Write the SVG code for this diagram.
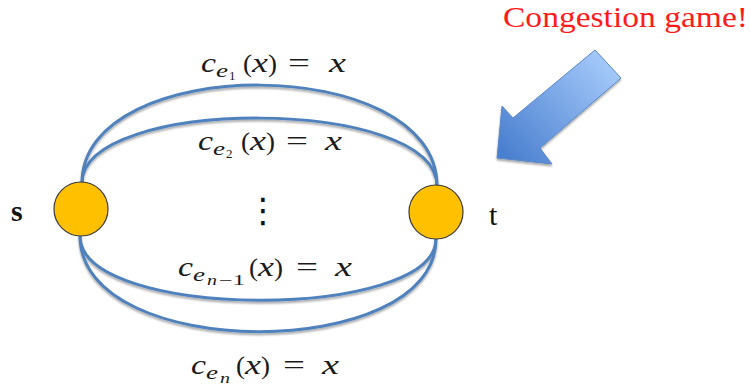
<svg xmlns="http://www.w3.org/2000/svg" width="751" height="390" viewBox="0 0 751 390">
<defs>
<linearGradient id="ag" x1="610" y1="60" x2="505" y2="155" gradientUnits="userSpaceOnUse">
<stop offset="0" stop-color="#a6cbfb"/>
<stop offset="1" stop-color="#4a7fcf"/>
</linearGradient>
<filter id="sh" x="-10%" y="-10%" width="120%" height="120%">
<feGaussianBlur in="SourceAlpha" stdDeviation="1.2"/>
<feOffset dx="0" dy="1.5"/>
<feComponentTransfer><feFuncA type="linear" slope="0.35"/></feComponentTransfer>
<feMerge><feMergeNode/><feMergeNode in="SourceGraphic"/></feMerge>
</filter>
</defs>
<style>
.edge{fill:none;stroke:#4f81bd;stroke-width:3;}
.node{fill:#ffc000;stroke:#3a3a3a;stroke-width:1.2;}
text{font-family:'Liberation Serif','Times New Roman',serif;}
.m text{fill:#1a1a1a;}
.i{font-style:italic;}
.lbl{fill:#111;}
</style>
<rect width="751" height="390" fill="#ffffff"/>
<g id="connectors" filter="url(#sh)">
<path class="edge" d="M82,183 C82,52 437,52 437,186"/>
<path class="edge" d="M82,183 C82,96 437,96 437,186"/>
<path class="edge" d="M80,236 C80,321 436,321 436,239"/>
<path class="edge" d="M80,236 C80,363 436,363 436,239"/>
</g>
<g id="node-s">
<circle class="node" cx="81" cy="209" r="27"/>
<text class="lbl" x="11" y="221" font-size="30" font-weight="bold">s</text>
</g>
<g id="node-t">
<circle class="node" cx="436" cy="212" r="27"/>
<text class="lbl" x="489" y="225" font-size="30">t</text>
</g>
<g id="label-e1" class="m">
<text class="i" x="201" y="72" font-size="27" textLength="15" lengthAdjust="spacingAndGlyphs">c</text>
<text class="i" x="216" y="77" font-size="19" textLength="12" lengthAdjust="spacingAndGlyphs">e</text>
<text x="229" y="80" font-size="13">1</text>
<text x="243" y="72" font-size="26" textLength="9" lengthAdjust="spacingAndGlyphs">(</text>
<text class="i" x="252" y="72" font-size="27" textLength="16" lengthAdjust="spacingAndGlyphs">x</text>
<text x="268" y="72" font-size="26" textLength="9" lengthAdjust="spacingAndGlyphs">)</text>
<text x="288" y="72" font-size="27" textLength="22" lengthAdjust="spacingAndGlyphs">=</text>
<text class="i" x="329" y="72" font-size="27" textLength="17" lengthAdjust="spacingAndGlyphs">x</text>
</g>
<g id="label-e2" class="m">
<text class="i" x="198" y="150" font-size="27" textLength="15" lengthAdjust="spacingAndGlyphs">c</text>
<text class="i" x="213" y="155" font-size="19" textLength="12" lengthAdjust="spacingAndGlyphs">e</text>
<text x="226" y="158" font-size="13">2</text>
<text x="241" y="150" font-size="26" textLength="9" lengthAdjust="spacingAndGlyphs">(</text>
<text class="i" x="250" y="150" font-size="27" textLength="16" lengthAdjust="spacingAndGlyphs">x</text>
<text x="266" y="150" font-size="26" textLength="9" lengthAdjust="spacingAndGlyphs">)</text>
<text x="286" y="150" font-size="27" textLength="22" lengthAdjust="spacingAndGlyphs">=</text>
<text class="i" x="325" y="150" font-size="27" textLength="17" lengthAdjust="spacingAndGlyphs">x</text>
</g>
<g id="dots">
<text x="263" y="222" style="font-family:'DejaVu Sans',sans-serif" font-size="34" fill="#111" text-anchor="middle">⋮</text>
</g>
<g id="label-en1" class="m">
<text class="i" x="178" y="276" font-size="27" textLength="15" lengthAdjust="spacingAndGlyphs">c</text>
<text class="i" x="193" y="281" font-size="19" textLength="12" lengthAdjust="spacingAndGlyphs">e</text>
<text class="i" x="207" y="285" font-size="14" textLength="10" lengthAdjust="spacingAndGlyphs">n</text>
<text x="219" y="285" font-size="14" textLength="26" lengthAdjust="spacingAndGlyphs">−1</text>
<text x="249" y="276" font-size="26" textLength="9" lengthAdjust="spacingAndGlyphs">(</text>
<text class="i" x="258" y="276" font-size="27" textLength="16" lengthAdjust="spacingAndGlyphs">x</text>
<text x="274" y="276" font-size="26" textLength="9" lengthAdjust="spacingAndGlyphs">)</text>
<text x="296" y="276" font-size="27" textLength="22" lengthAdjust="spacingAndGlyphs">=</text>
<text class="i" x="335" y="276" font-size="27" textLength="17" lengthAdjust="spacingAndGlyphs">x</text>
</g>
<g id="label-en" class="m">
<text class="i" x="191" y="374" font-size="27" textLength="15" lengthAdjust="spacingAndGlyphs">c</text>
<text class="i" x="206" y="379" font-size="19" textLength="12" lengthAdjust="spacingAndGlyphs">e</text>
<text class="i" x="220" y="383" font-size="14" textLength="10" lengthAdjust="spacingAndGlyphs">n</text>
<text x="236" y="374" font-size="26" textLength="9" lengthAdjust="spacingAndGlyphs">(</text>
<text class="i" x="245" y="374" font-size="27" textLength="16" lengthAdjust="spacingAndGlyphs">x</text>
<text x="261" y="374" font-size="26" textLength="9" lengthAdjust="spacingAndGlyphs">)</text>
<text x="283" y="374" font-size="27" textLength="22" lengthAdjust="spacingAndGlyphs">=</text>
<text class="i" x="322" y="374" font-size="27" textLength="17" lengthAdjust="spacingAndGlyphs">x</text>
</g>
<g id="callout">
<text x="503" y="27" font-size="29" fill="#ff1a1a" textLength="245" lengthAdjust="spacingAndGlyphs">Congestion game!</text>
<polygon points="595,50 621,78 540,148 552,164 497,158 502,106 513,118" fill="url(#ag)" stroke="#5a88c8" stroke-width="1" filter="url(#sh)"/>
</g>
</svg>
